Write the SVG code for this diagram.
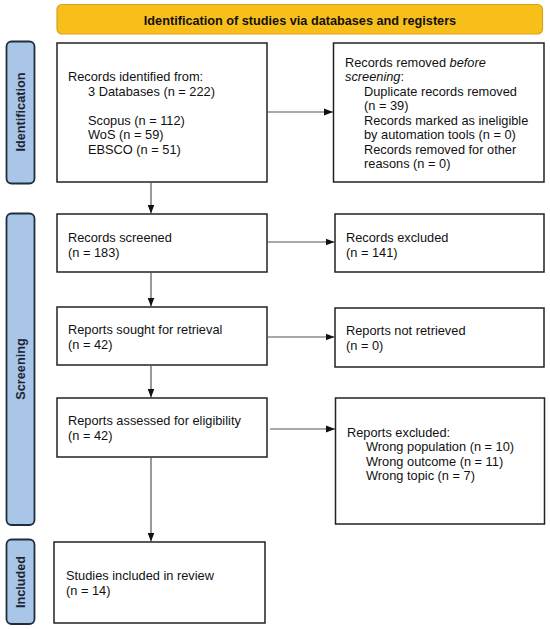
<svg xmlns="http://www.w3.org/2000/svg" width="550" height="629" viewBox="0 0 550 629">
<defs>
<marker id="ah" markerWidth="10" markerHeight="8" refX="9" refY="4" orient="auto" markerUnits="userSpaceOnUse">
<path d="M0,0.5 L9,4 L0,7.5 Z" fill="#111"/>
</marker>
<style>
.box{fill:#fff;stroke:#222;stroke-width:1.5}
.side{fill:#a9c6e8;stroke:#1f2d3d;stroke-width:1.8}
.t{font-family:"Liberation Sans",Arial,sans-serif;font-size:12.8px;fill:#111}
.st{font-family:"Liberation Sans",Arial,sans-serif;font-size:12.7px;font-weight:bold;fill:#1a2430}
.c{fill:none;stroke:#555;stroke-width:1.2}
</style>
</defs>
<rect width="550" height="629" fill="#fff"/>
<g id="banner">
<rect x="57" y="4.5" width="485.5" height="29.5" rx="5" fill="#f8bf1a" stroke="#d9a31a" stroke-width="1.2"/>
<text class="st" x="300" y="24.5" text-anchor="middle" style="fill:#111">Identification of studies via databases and registers</text>
</g>
<g id="side-identification">
<rect class="side" x="6.5" y="41.5" width="28" height="142" rx="5"/>
<text class="st" transform="translate(25,112) rotate(-90)" text-anchor="middle">Identification</text>
</g>
<g id="side-screening">
<rect class="side" x="6.5" y="213.5" width="28" height="311.5" rx="5"/>
<text class="st" transform="translate(25,369) rotate(-90)" text-anchor="middle">Screening</text>
</g>
<g id="side-included">
<rect class="side" x="6.5" y="539.5" width="28" height="84.5" rx="5"/>
<text class="st" transform="translate(25,582) rotate(-90)" text-anchor="middle">Included</text>
</g>
<g id="identified">
<rect class="box" x="57" y="43" width="210" height="139"/>
<text class="t" x="68" y="81">Records identified from:</text>
<text class="t" x="88" y="95.5">3 Databases (n = 222)</text>
<text class="t" x="88" y="124.5">Scopus (n = 112)</text>
<text class="t" x="88" y="139">WoS (n = 59)</text>
<text class="t" x="88" y="153.5">EBSCO (n = 51)</text>
</g>
<g id="removed">
<rect class="box" x="333.5" y="43" width="210.5" height="139"/>
<text class="t" x="345" y="66.5">Records removed <tspan font-style="italic">before</tspan></text>
<text class="t" x="345" y="81"><tspan font-style="italic">screening</tspan>:</text>
<text class="t" x="364" y="95.5">Duplicate records removed</text>
<text class="t" x="364" y="110">(n = 39)</text>
<text class="t" x="364" y="124.5">Records marked as ineligible</text>
<text class="t" x="364" y="139">by automation tools (n = 0)</text>
<text class="t" x="364" y="153.5">Records removed for other</text>
<text class="t" x="364" y="168">reasons (n = 0)</text>
</g>
<g id="screened">
<rect class="box" x="57" y="214" width="210" height="58"/>
<text class="t" x="68" y="241.5">Records screened</text>
<text class="t" x="68" y="256.5">(n = 183)</text>
</g>
<g id="excluded">
<rect class="box" x="335" y="214" width="209" height="58"/>
<text class="t" x="346" y="241.5">Records excluded</text>
<text class="t" x="346" y="256.5">(n = 141)</text>
</g>
<g id="sought">
<rect class="box" x="57" y="307" width="210" height="58"/>
<text class="t" x="68" y="333.5">Reports sought for retrieval</text>
<text class="t" x="68" y="348.5">(n = 42)</text>
</g>
<g id="notretrieved">
<rect class="box" x="335" y="308" width="209" height="59"/>
<text class="t" x="346" y="335">Reports not retrieved</text>
<text class="t" x="346" y="350">(n = 0)</text>
</g>
<g id="assessed">
<rect class="box" x="57" y="398" width="210" height="59"/>
<text class="t" x="68" y="425">Reports assessed for eligibility</text>
<text class="t" x="68" y="440">(n = 42)</text>
</g>
<g id="reportsexcluded">
<rect class="box" x="335.5" y="398" width="209" height="126"/>
<text class="t" x="347" y="436.5">Reports excluded:</text>
<text class="t" x="366" y="451">Wrong population (n = 10)</text>
<text class="t" x="366" y="465.5">Wrong outcome (n = 11)</text>
<text class="t" x="366" y="480">Wrong topic (n = 7)</text>
</g>
<g id="included">
<rect class="box" x="54" y="542" width="211" height="81"/>
<text class="t" x="66" y="580">Studies included in review</text>
<text class="t" x="66" y="595">(n = 14)</text>
</g>
<g id="connectors">
<line class="c" x1="267" y1="112" x2="333" y2="112" marker-end="url(#ah)"/>
<line class="c" x1="151" y1="182" x2="151" y2="213.5" marker-end="url(#ah)"/>
<line class="c" x1="267" y1="242" x2="334.5" y2="242" marker-end="url(#ah)"/>
<line class="c" x1="151" y1="272" x2="151" y2="306.5" marker-end="url(#ah)"/>
<line class="c" x1="267" y1="337" x2="334.5" y2="337" marker-end="url(#ah)"/>
<line class="c" x1="151" y1="365" x2="151" y2="397.5" marker-end="url(#ah)"/>
<line class="c" x1="270" y1="429" x2="335" y2="429" marker-end="url(#ah)"/>
<line class="c" x1="151" y1="457" x2="151" y2="541.5" marker-end="url(#ah)"/>
</g>
</svg>
